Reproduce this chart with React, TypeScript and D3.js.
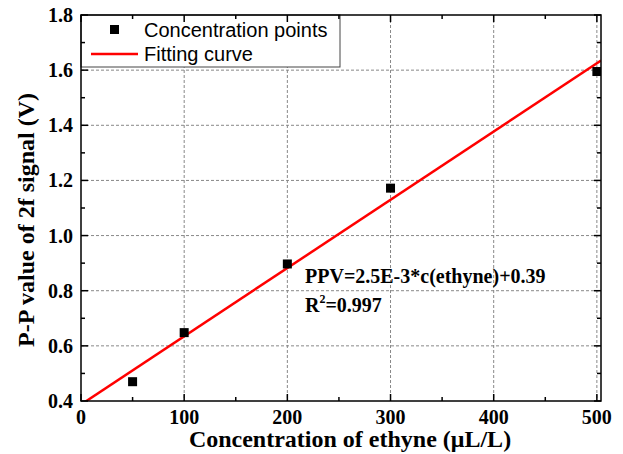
import React from 'react'
import * as d3 from 'd3'

const conc = [50, 100, 200, 300, 500]
const ppv = [0.47, 0.648, 0.897, 1.172, 1.595]
// fitted line end points
const fitX = [0, 504]
const fitY = [0.387, 1.635]
const xTicks = [0, 100, 200, 300, 400, 500]
const yTicks = [0.4, 0.6, 0.8, 1.0, 1.2, 1.4, 1.6, 1.8]

const W = 623
const H = 454
const m = { left: 81, right: 601, top: 15, bottom: 401 }
const serif = '"Times New Roman", "Liberation Serif", serif'
const sans = 'Arial, "Liberation Sans", sans-serif'

export default function App() {
  const x = d3.scaleLinear().domain([0, 504]).range([m.left, m.right])
  const y = d3.scaleLinear().domain([0.4, 1.8]).range([m.bottom, m.top])
  const xMinor = d3.range(50, 504, 100)
  const yMinor = d3.range(0.5, 1.8, 0.2)
  const line = d3.line<number>().x((d, i) => x(fitX[i])).y((d, i) => y(fitY[i]))

  return (
    <svg width={W} height={H} style={{ position: 'absolute', left: 0, top: 0, background: '#fff' }}>
      <defs>
        <clipPath id="plot">
          <rect x={m.left} y={m.top} width={m.right - m.left} height={m.bottom - m.top} />
        </clipPath>
      </defs>
      {/* grid */}
      <g stroke="#888" strokeWidth={1} strokeDasharray="3,2">
        {xTicks.slice(1).map(t => (
          <line key={'gx' + t} x1={x(t)} x2={x(t)} y1={m.top} y2={m.bottom} />
        ))}
        {yTicks.slice(1, -1).map(t => (
          <line key={'gy' + t} x1={m.left} x2={m.right} y1={y(t)} y2={y(t)} />
        ))}
      </g>
      {/* legend */}
      <rect x={m.left} y={m.top} width={259} height={52} fill="#fff" stroke="#444" strokeWidth={1} />
      <rect x={110} y={25} width={9} height={9} fill="#000" />
      <line x1={91} x2={138} y1={54} y2={54} stroke="#f00" strokeWidth={2.5} />
      <g fontFamily={sans} fontSize={20} fill="#000">
        <text x={144} y={37}>Concentration points</text>
        <text x={144} y={61}>Fitting curve</text>
      </g>
      {/* fit + points */}
      <g clipPath="url(#plot)">
        <path d={line(fitY) || ''} fill="none" stroke="#f00" strokeWidth={2.5} />
        {conc.map((c, i) => (
          <rect key={c} x={x(c) - 4.5} y={y(ppv[i]) - 4.5} width={9} height={9} fill="#000" />
        ))}
      </g>
      {/* frame */}
      <rect x={m.left} y={m.top} width={m.right - m.left} height={m.bottom - m.top} fill="none" stroke="#000" strokeWidth={1.5} />
      {/* ticks */}
      <g stroke="#000" strokeWidth={1.5}>
        {xTicks.map(t => (
          <g key={'xt' + t}>
            <line x1={x(t)} x2={x(t)} y1={m.bottom} y2={m.bottom - 7} />
            <line x1={x(t)} x2={x(t)} y1={m.top} y2={m.top + 7} />
          </g>
        ))}
        {xMinor.map(t => (
          <g key={'xm' + t}>
            <line x1={x(t)} x2={x(t)} y1={m.bottom} y2={m.bottom - 4} />
            <line x1={x(t)} x2={x(t)} y1={m.top} y2={m.top + 4} />
          </g>
        ))}
        {yTicks.map(t => (
          <g key={'yt' + t}>
            <line x1={m.left} x2={m.left + 7} y1={y(t)} y2={y(t)} />
            <line x1={m.right} x2={m.right - 7} y1={y(t)} y2={y(t)} />
          </g>
        ))}
        {yMinor.map(t => (
          <g key={'ym' + t}>
            <line x1={m.left} x2={m.left + 4} y1={y(t)} y2={y(t)} />
            <line x1={m.right} x2={m.right - 4} y1={y(t)} y2={y(t)} />
          </g>
        ))}
      </g>
      {/* tick labels */}
      <g fontFamily={serif} fontWeight="bold" fontSize={20} fill="#000">
        {xTicks.map(t => (
          <text key={'xl' + t} x={x(t)} y={424} textAnchor="middle">{t}</text>
        ))}
        {yTicks.map(t => (
          <text key={'yl' + t} x={73} y={y(t) + 7} textAnchor="end">{t.toFixed(1)}</text>
        ))}
      </g>
      {/* annotation */}
      <g fontFamily={serif} fontWeight="bold" fontSize={20} fill="#000">
        <text x={305} y={283}>PPV=2.5E-3*c(ethyne)+0.39</text>
        <text x={305} y={312}>R<tspan dy={-9} fontSize={12}>2</tspan><tspan dy={9}>=0.997</tspan></text>
      </g>
      {/* axis titles */}
      <text x={350} y={447} textAnchor="middle" fontFamily={serif} fontWeight="bold" fontSize={24}>
        Concentration of ethyne (μL/L)
      </text>
      <text transform={`translate(34,220) rotate(-90)`} textAnchor="middle" fontFamily={serif} fontWeight="bold" fontSize={24}>
        P-P value of 2f signal (V)
      </text>
    </svg>
  )
}
